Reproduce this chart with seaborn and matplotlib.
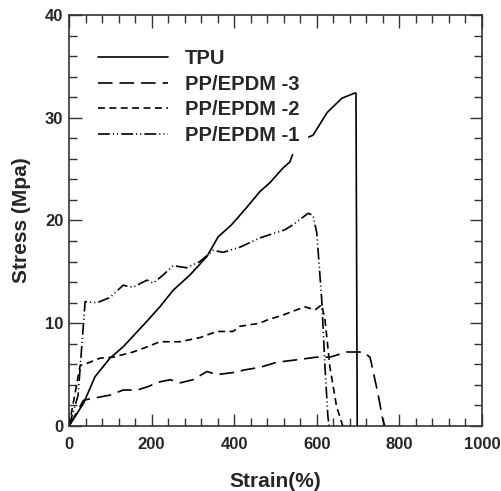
import pandas as pd
import seaborn as sns
import matplotlib.pyplot as plt
from matplotlib.ticker import MultipleLocator

# TPU
tpu_strain = [0, 35, 63, 99, 131, 168, 191, 220, 252, 293, 334, 361, 394, 431,
              462, 487, 518, 535, 543, 579, 591, 625, 661, 692, 695, 698]
tpu_stress = [0, 2.2, 4.8, 6.6, 7.7, 9.3, 10.3, 11.6, 13.2, 14.7, 16.5, 18.4, 19.6, 21.3,
              22.8, 23.7, 25.1, 25.7, 26.6, 28.1, 28.3, 30.5, 31.9, 32.4, 32.4, 0]

# PP/EPDM -3
pe3_strain = [0, 35, 58, 99, 131, 165, 189, 220, 245, 269, 300, 334, 358, 397, 431,
              462, 503, 543, 600, 632, 673, 712, 729, 748, 760, 765]
pe3_stress = [0, 2.5, 2.7, 3.0, 3.5, 3.5, 3.8, 4.3, 4.5, 4.2, 4.5, 5.3, 5.0, 5.2, 5.5,
              5.7, 6.2, 6.4, 6.7, 6.7, 7.2, 7.2, 6.7, 3.2, 0.6, 0]

# PP/EPDM -2
pe2_strain = [0, 27, 44, 75, 107, 155, 189, 220, 269, 317, 358, 397, 414, 462,
              479, 518, 571, 596, 612, 620, 632, 648, 663]
pe2_stress = [0, 5.9, 6.1, 6.6, 6.7, 7.2, 7.7, 8.2, 8.2, 8.6, 9.2, 9.2, 9.7, 10.0,
              10.3, 10.8, 11.6, 11.3, 11.8, 10.3, 5.7, 1.9, 0]

# PP/EPDM -1
pe1_strain = [0, 22, 39, 68, 99, 131, 155, 189, 204, 228, 252, 285, 317, 349, 373,
              414, 462, 523, 543, 579, 591, 600, 612, 620, 627, 630]
pe1_stress = [0, 3.0, 12.1, 12.0, 12.5, 13.7, 13.5, 14.2, 13.9, 14.7, 15.6, 15.4, 16.0,
              17.1, 16.9, 17.4, 18.3, 19.1, 19.6, 20.7, 20.5, 18.8, 12.3, 5.7, 0.9, 0]

series = [
    ("TPU", tpu_strain, tpu_stress, "-"),
    ("PP/EPDM -3", pe3_strain, pe3_stress, (0, (10.5, 5))),
    ("PP/EPDM -2", pe2_strain, pe2_stress, (0, (5, 3.2))),
    ("PP/EPDM -1", pe1_strain, pe1_stress, (0, (8.5, 2.2, 0.8, 2.2, 0.8, 2.2))),
]

sns.set_style("ticks")
plt.rcParams["font.family"] = ["Liberation Sans", "DejaVu Sans"]
plt.rcParams["font.weight"] = "bold"
plt.rcParams["axes.labelweight"] = "bold"
plt.rcParams["lines.scale_dashes"] = False

fig = plt.figure(figsize=(5.02, 4.91), dpi=100)
ax = fig.add_axes([0.1375, 0.1324, 0.8225, 0.8371])

for name, x, y, ls in series:
    df = pd.DataFrame({"strain": x, "stress": y})
    sns.lineplot(data=df, x="strain", y="stress", ax=ax, sort=False, estimator=None,
                 color="black", linewidth=1.2, linestyle=ls, label=name)

ax.set_xlim(0, 1000)
ax.set_ylim(0, 40)
ax.xaxis.set_major_locator(MultipleLocator(200))
ax.xaxis.set_minor_locator(MultipleLocator(40))
ax.yaxis.set_major_locator(MultipleLocator(10))
ax.yaxis.set_minor_locator(MultipleLocator(2))
ax.tick_params(which="both", direction="in", top=True, right=True, color="#333333",
               width=1, labelsize=12)
ax.tick_params(which="major", length=9)
ax.tick_params(which="minor", length=6)
ax.tick_params(axis="x", pad=8)
ax.tick_params(axis="y", pad=4)
for s in ax.spines.values():
    s.set_color("#333333")
    s.set_linewidth(1.2)

ax.set_xlabel("Strain(%)", fontsize=15, labelpad=14.5)
ax.set_ylabel("Stress (Mpa)", fontsize=15, labelpad=10)

leg = ax.legend(loc="upper left", bbox_to_anchor=(0.051, 0.936), borderaxespad=0,
                fontsize=14.5, handlelength=3.45, handletextpad=0.85, labelspacing=0.32,
                frameon=True, fancybox=False, framealpha=1, facecolor="white",
                edgecolor="white")
leg.set_zorder(5)

plt.savefig("out.png", dpi=100)
